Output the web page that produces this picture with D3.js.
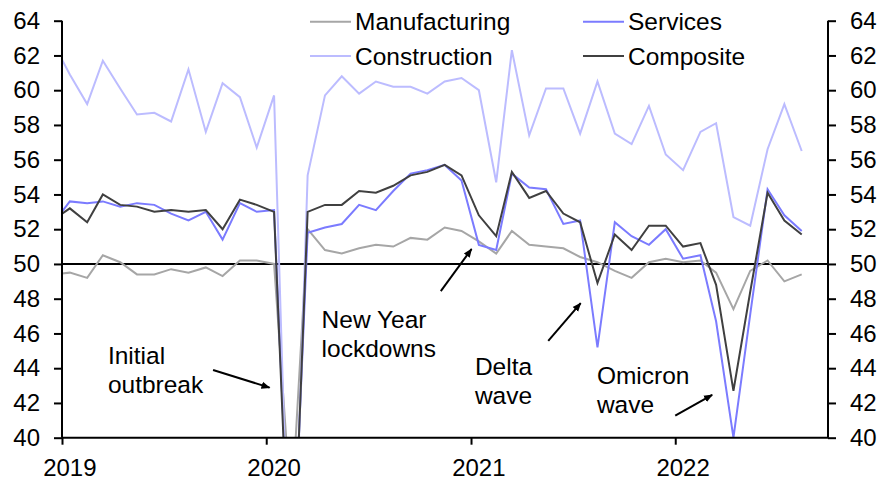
<!DOCTYPE html>
<html>
<head>
<meta charset="utf-8">
<script src="https://cdn.jsdelivr.net/npm/d3@7"></script>
<style>
  html, body { margin: 0; padding: 0; background: #fff; }
  svg { display: block; font-family: "Liberation Sans", Arial, sans-serif; }
</style>
</head>
<body>
<svg id="chart" width="885" height="493"></svg>
<script>
// ---- Data (China NBS PMIs) ----
const months = [
  "2018-12",
  "2019-01","2019-02","2019-03","2019-04","2019-05","2019-06","2019-07","2019-08","2019-09","2019-10","2019-11","2019-12",
  "2020-01","2020-02","2020-03","2020-04","2020-05","2020-06","2020-07","2020-08","2020-09","2020-10","2020-11","2020-12",
  "2021-01","2021-02","2021-03","2021-04","2021-05","2021-06","2021-07","2021-08","2021-09","2021-10","2021-11","2021-12",
  "2022-01","2022-02","2022-03","2022-04","2022-05","2022-06","2022-07","2022-08"
];
const manufacturing = [
  49.4,
  49.5, 49.2, 50.5, 50.1, 49.4, 49.4, 49.7, 49.5, 49.8, 49.3, 50.2, 50.2,
  50.0, 35.7, 52.0, 50.8, 50.6, 50.9, 51.1, 51.0, 51.5, 51.4, 52.1, 51.9,
  51.3, 50.6, 51.9, 51.1, 51.0, 50.9, 50.4, 50.1, 49.6, 49.2, 50.1, 50.3,
  50.1, 50.2, 49.5, 47.4, 49.6, 50.2, 49.0, 49.4
];
const services = [
  52.3,
  53.6, 53.5, 53.6, 53.3, 53.5, 53.4, 52.9, 52.5, 53.0, 51.4, 53.5, 53.0,
  53.1, 30.1, 51.8, 52.1, 52.3, 53.4, 53.1, 54.2, 55.2, 55.4, 55.7, 54.8,
  51.1, 50.8, 55.2, 54.4, 54.3, 52.3, 52.5, 45.2, 52.4, 51.6, 51.1, 52.0,
  50.3, 50.5, 46.7, 40.0, 47.1, 54.3, 52.8, 51.9
];
const construction = [
  62.8,
  60.9, 59.2, 61.7, 60.1, 58.6, 58.7, 58.2, 61.2, 57.6, 60.4, 59.6, 56.7,
  59.7, 26.6, 55.1, 59.7, 60.8, 59.8, 60.5, 60.2, 60.2, 59.8, 60.5, 60.7,
  60.0, 54.7, 62.3, 57.4, 60.1, 60.1, 57.5, 60.5, 57.5, 56.9, 59.1, 56.3,
  55.4, 57.6, 58.1, 52.7, 52.2, 56.6, 59.2, 56.5
];
const composite = [
  52.5,
  53.2, 52.4, 54.0, 53.4, 53.3, 53.0, 53.1, 53.0, 53.1, 52.0, 53.7, 53.4,
  53.0, 28.9, 53.0, 53.4, 53.4, 54.2, 54.1, 54.5, 55.1, 55.3, 55.7, 55.1,
  52.8, 51.6, 55.3, 53.8, 54.2, 52.9, 52.4, 48.9, 51.7, 50.8, 52.2, 52.2,
  51.0, 51.2, 48.8, 42.7, 48.4, 54.1, 52.5, 51.7
];
const yTicks = [40, 42, 44, 46, 48, 50, 52, 54, 56, 58, 60, 62, 64];
const xTickYears = ["2019", "2020", "2021", "2022"];
const seriesNames = ["Manufacturing", "Services", "Construction", "Composite"];
const annotations = [
  { lines: ["Initial", "outbreak"], date: "2019-03-24", value: 44.24, arrowFrom: ["2019-09-28", 43.90], arrowTo: ["2020-01-07", 42.88] },
  { lines: ["New Year", "lockdowns"], date: "2020-04-09", value: 46.30, arrowFrom: ["2020-11-08", 48.44], arrowTo: ["2021-01-02", 50.86] },
  { lines: ["Delta", "wave"], date: "2021-01-08", value: 43.61, arrowFrom: ["2021-05-19", 45.57], arrowTo: ["2021-07-16", 47.74] },
  { lines: ["Omicron", "wave"], date: "2021-08-14", value: 43.09, arrowFrom: ["2022-01-01", 41.27], arrowTo: ["2022-03-08", 42.46] }
];

// ---- Layout ----
(function () {
const svg = d3.select("#chart");
const pL = 62, pR = 828, pT = 20.7, pB = 437.7;
const parseMonth = d3.timeParse("%Y-%m");
const parseDay = d3.timeParse("%Y-%m-%d");
const parseYear = d3.timeParse("%Y");
const midMonth = s => d3.timeDay.offset(parseMonth(s), 14);

const x = d3.scaleTime()
  .domain([new Date(2019, 0, 1), new Date(2022, 9, 1)])
  .range([pL, pR]);
const y = d3.scaleLinear().domain([40, 64]).range([pB, pT]);

const colors = {
  Manufacturing: "#a6a6a6",
  Services: "#7b7bff",
  Construction: "#bcbcff",
  Composite: "#404040"
};
const seriesData = {
  Manufacturing: manufacturing,
  Services: services,
  Construction: construction,
  Composite: composite
};

const defs = svg.append("defs");
defs.append("clipPath").attr("id", "plotclip")
  .append("rect").attr("x", pL).attr("y", pT - 2)
  .attr("width", pR - pL).attr("height", pB - pT + 2);

defs.append("marker")
  .attr("id", "arrow").attr("viewBox", "0 0 10 10")
  .attr("refX", 9).attr("refY", 5)
  .attr("markerWidth", 9).attr("markerHeight", 9)
  .attr("markerUnits", "userSpaceOnUse")
  .attr("orient", "auto")
  .append("path").attr("d", "M0,1 L10,5 L0,9 Z").attr("fill", "#000");

// 50 reference line
svg.append("line")
  .attr("x1", pL).attr("x2", pR)
  .attr("y1", y(50)).attr("y2", y(50))
  .attr("stroke", "#000").attr("stroke-width", 2);

// Lines
const line = d3.line()
  .x((d, i) => x(midMonth(months[i])))
  .y(d => y(d));

const g = svg.append("g").attr("clip-path", "url(#plotclip)");
seriesNames.forEach(name => {
  g.append("path")
    .datum(seriesData[name])
    .attr("fill", "none")
    .attr("stroke", colors[name])
    .attr("stroke-width", 2)
    .attr("d", line);
});

// Axes
const fontSize = 24;
const textSize = 24.5;
const yAxisL = d3.axisLeft(y).tickValues(yTicks).tickSize(8).tickPadding(14);
const yAxisR = d3.axisRight(y).tickValues(yTicks).tickSize(8).tickPadding(14);

function styleAxis(sel) {
  sel.select(".domain").attr("stroke", "#000").attr("stroke-width", 2);
  sel.selectAll(".tick line").attr("stroke", "#000").attr("stroke-width", 2);
  sel.selectAll(".tick text").attr("fill", "#000")
    .style("font-size", fontSize + "px")
    .style("font-family", "'Liberation Sans', Arial, sans-serif");
}

const gl = svg.append("g").attr("transform", `translate(${pL},0)`).call(yAxisL);
gl.select(".domain").attr("d", `M0,${pT}V${pB}`);
styleAxis(gl);
const gr = svg.append("g").attr("transform", `translate(${pR},0)`).call(yAxisR);
gr.select(".domain").attr("d", `M0,${pT}V${pB}`);
styleAxis(gr);

// Bottom axis: ticks at year starts, labels at mid-January
const yearDates = xTickYears.map(s => parseYear(s));
const gx = svg.append("g").attr("transform", `translate(0,${pB})`)
  .call(d3.axisBottom(x).tickValues(yearDates).tickSize(7).tickFormat(""));
gx.select(".domain").attr("d", `M${pL},0H${pR}`);
styleAxis(gx);
svg.append("g").selectAll("text").data(xTickYears).join("text")
  .attr("x", d => x(d3.timeDay.offset(parseYear(d), 14)))
  .attr("y", 476)
  .attr("text-anchor", "middle")
  .attr("font-size", fontSize)
  .attr("fill", "#000")
  .text(d => d);

// Legend
const legendItems = [
  { name: "Manufacturing", lx: 310, ly: 21.7 },
  { name: "Construction", lx: 310, ly: 56 },
  { name: "Services", lx: 583, ly: 21.7 },
  { name: "Composite", lx: 583, ly: 56 }
];
const lg = svg.append("g");
legendItems.forEach(it => {
  lg.append("line")
    .attr("x1", it.lx).attr("x2", it.lx + 41)
    .attr("y1", it.ly).attr("y2", it.ly)
    .attr("stroke", colors[it.name]).attr("stroke-width", 2);
  lg.append("text")
    .attr("x", it.lx + 45).attr("y", it.ly + 8.5)
    .attr("font-size", textSize).attr("fill", "#000")
    .text(it.name);
});

// Annotations
const ag = svg.append("g");
annotations.forEach(a => {
  const tx = x(parseDay(a.date));
  const ty = y(a.value);
  a.lines.forEach((t, i) => {
    ag.append("text")
      .attr("x", tx).attr("y", ty + i * 28.7)
      .attr("font-size", textSize).attr("fill", "#000")
      .text(t);
  });
  ag.append("line")
    .attr("x1", x(parseDay(a.arrowFrom[0]))).attr("y1", y(a.arrowFrom[1]))
    .attr("x2", x(parseDay(a.arrowTo[0]))).attr("y2", y(a.arrowTo[1]))
    .attr("stroke", "#000").attr("stroke-width", 2)
    .attr("marker-end", "url(#arrow)");
});
})();
</script>
</body>
</html>
